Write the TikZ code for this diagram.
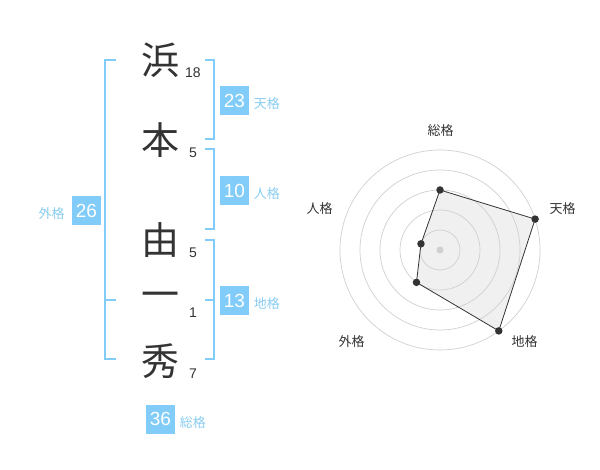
\documentclass[tikz,border=0pt]{standalone}
\usepackage{fontspec}
\setmainfont{Liberation Sans}
\newfontfamily\cjk{Noto Sans CJK JP}
\usetikzlibrary{positioning}
\definecolor{kakuColor}{RGB}{129,204,248}
\definecolor{kakuTextColor}{RGB}{136,204,240}
\definecolor{inkColor}{RGB}{51,51,51}
\definecolor{ringColor}{RGB}{208,208,208}
\definecolor{areaColor}{RGB}{240,240,240}
\tikzstyle{pixels} = [x = 1pt, y = -1pt]
\tikzstyle{kanjiStyle} = [text=inkColor, font=\cjk\fontsize{38}{38}\selectfont, inner sep=0pt]
\tikzstyle{strokeStyle} = [text=inkColor, font=\fontsize{14}{14}\selectfont, inner sep=0pt]
\tikzstyle{bracketLine} = [color=kakuColor, line width=2pt]
\tikzstyle{kakuBox} = [fill=kakuColor, text=white, font=\fontsize{19}{19}\selectfont, minimum size=29pt, inner sep=0pt]
\tikzstyle{kakuText} = [text=kakuTextColor, font=\cjk\fontsize{13}{13}\selectfont, inner sep=0pt]
\tikzstyle{ringLine} = [color=ringColor, line width=.7pt]
\tikzstyle{radarArea} = [color=inkColor, line width=.8pt, line join=round]
\tikzstyle{radarDot} = [circle, fill=inkColor, inner sep=0pt, minimum size=7.5pt]
\tikzstyle{radarText} = [text=inkColor, font=\cjk\fontsize{13}{13}\selectfont, inner sep=0pt]
\newcommand{\kanji}[4]{\node [kanjiStyle] (#1) at (160, #2) {#3}; \node [strokeStyle] (#1Count) at (193, #2 + 13) {#4};}
\newcommand{\rightBracket}[2]{\draw [bracketLine] (205, #1) -- (214, #1) -- (214, #2) -- (205, #2);}
\newcommand{\kakuRight}[4]{\node [kakuBox] (#1) at (234.5, #2) {#3}; \node [kakuText, right = 4.5pt of #1, yshift = -3pt] (#1Text) {#4};}
\newcommand{\radarPoint}[3]{\coordinate (#1) at ({440 + #3 * cos(#2)}, {250 - #3 * sin(#2)});}

\begin{document}
\begin{tikzpicture}[pixels]
  \useasboundingbox (0,0) rectangle (600,470);
  \kanji{hama}{60}{浜}{18}
  \kanji{moto}{140}{本}{5}
  \kanji{yoshi}{240}{由}{5}
  \kanji{ichi}{300}{一}{1}
  \kanji{hide}{361}{秀}{7}

  \rightBracket{60}{139.5}
  \rightBracket{149.5}{229.5}
  \rightBracket{240}{359.5}
  \draw [bracketLine] (205, 300) -- (214, 300);
  \draw [bracketLine] (116, 60) -- (105, 60) -- (105, 359.5) -- (116, 359.5);
  \draw [bracketLine] (105, 300) -- (116, 300);

  \kakuRight{tenkaku}{100.5}{23}{天格}
  \kakuRight{jinkaku}{190.5}{10}{人格}
  \kakuRight{chikaku}{300.5}{13}{地格}
  \node [kakuBox] (gaikaku) at (86.5, 210.5) {26};
  \node [kakuText, left = 7pt of gaikaku, yshift = -3pt] (gaikakuText) {外格};
  \node [kakuBox] (soukaku) at (160.5, 419) {36};
  \node [kakuText, right = 4.5pt of soukaku, yshift = -3.5pt] (soukakuText) {総格};

  \radarPoint{souPoint}{90}{60}
  \radarPoint{tenPoint}{18}{100}
  \radarPoint{chiPoint}{-54}{100}
  \radarPoint{gaiPoint}{-126}{40}
  \radarPoint{jinPoint}{162}{20}
  \fill [areaColor] (souPoint) -- (tenPoint) -- (chiPoint) -- (gaiPoint) -- (jinPoint) -- cycle;
  \foreach \r in {20,40,...,100} {
    \draw [ringLine] (440, 250) circle (\r);
  }
  \fill [ringColor] (440, 250) circle (3.5);
  \draw [radarArea] (souPoint) -- (tenPoint) -- (chiPoint) -- (gaiPoint) -- (jinPoint) -- cycle;
  \foreach \p in {souPoint,tenPoint,chiPoint,gaiPoint,jinPoint} {
    \node [radarDot] (\p Dot) at (\p) {};
  }
  \node [radarText] (souLabel) at (440.5, 131) {総格};
  \node [radarText] (tenLabel) at (562.5, 208.5) {天格};
  \node [radarText] (chiLabel) at (524.5, 341.5) {地格};
  \node [radarText] (gaiLabel) at (351.5, 341.5) {外格};
  \node [radarText] (jinLabel) at (319.5, 208.5) {人格};
\end{tikzpicture}
\end{document}
